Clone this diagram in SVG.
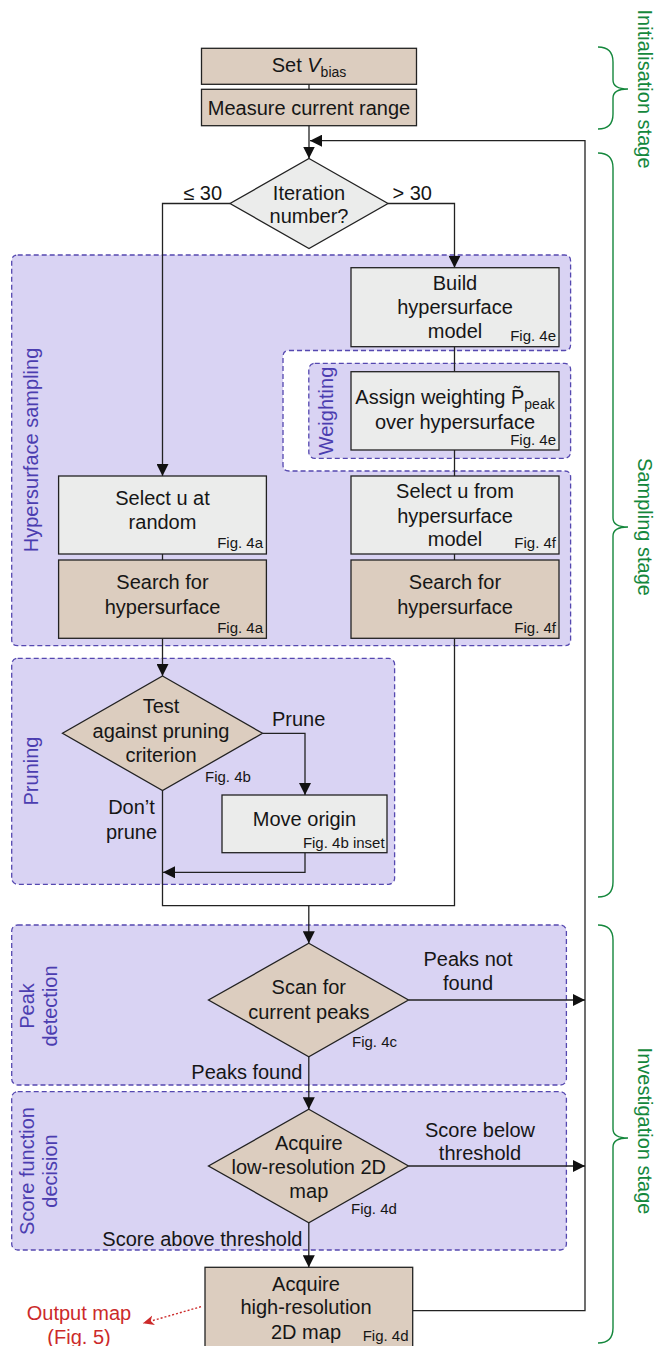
<svg xmlns="http://www.w3.org/2000/svg" width="657" height="1346" viewBox="0 0 657 1346">
<style>
.tan{fill:#dccdbf;stroke:#222;stroke-width:1.3}
.grey{fill:#ebeceb;stroke:#222;stroke-width:1.3}
.region{fill:#d9d3f3;stroke:#5548b0;stroke-width:1.3;stroke-dasharray:5 3}
.t{font-family:"Liberation Sans",Arial,sans-serif;font-size:20px;fill:#161616}
.c{text-anchor:middle}
.e{text-anchor:end}
.fig{font-size:15px}
.lab{fill:#4b3db0}
.stage{fill:#14873c}
.red{fill:#cc2a2a}
.conn{fill:none;stroke:#222;stroke-width:1.3}
.brace{fill:none;stroke:#14873c;stroke-width:1.4}
</style>
<defs>
<marker id="ah" markerUnits="userSpaceOnUse" markerWidth="12" markerHeight="12" refX="12" refY="6" orient="auto">
<path d="M0,0 L12,6 L0,12 z" fill="#111"/>
</marker>
<marker id="ahr" markerUnits="userSpaceOnUse" markerWidth="12" markerHeight="12" refX="11" refY="6" orient="auto">
<path d="M0,1 L11,6 L0,11 L3,6 z" fill="#cc2a2a"/>
</marker>
</defs>

<!-- regions -->
<g id="region-hypersurface">
<path class="region" d="M17.7,255 H564.6 Q570.6,255 570.6,261 V344.5 Q570.6,350.5 564.6,350.5 H289 Q283,350.5 283,356.5 V465 Q283,471 289,471 H564.6 Q570.6,471 570.6,477 V639.7 Q570.6,645.7 564.6,645.7 H17.7 Q11.7,645.7 11.7,639.7 V261 Q11.7,255 17.7,255 Z"/>
<text class="t lab c" transform="translate(38,450) rotate(-90)">Hypersurface sampling</text>
</g>
<g id="region-weighting">
<rect class="region" x="308.8" y="363.3" width="261.8" height="95" rx="6"/>
<text class="t lab c" transform="translate(333,411) rotate(-90)">Weighting</text>
</g>
<g id="region-pruning">
<rect class="region" x="11.7" y="658.3" width="382.9" height="226" rx="6"/>
<text class="t lab c" transform="translate(38,771) rotate(-90)">Pruning</text>
</g>
<g id="region-peak">
<rect class="region" x="11.7" y="925" width="554.7" height="160" rx="6"/>
<text class="t lab c" transform="translate(33.5,1006) rotate(-90)">Peak</text>
<text class="t lab c" transform="translate(56.5,1006) rotate(-90)">detection</text>
</g>
<g id="region-score">
<rect class="region" x="11.7" y="1091.7" width="554.7" height="158.3" rx="6"/>
<text class="t lab c" transform="translate(33.5,1171) rotate(-90)">Score function</text>
<text class="t lab c" transform="translate(56.5,1171) rotate(-90)">decision</text>
</g>

<!-- connectors -->
<g id="connectors">
<line class="conn" x1="309" y1="84.3" x2="309" y2="89.3"/>
<line class="conn" x1="309" y1="125.7" x2="309" y2="158.5" marker-end="url(#ah)"/>
<polyline class="conn" points="412.7,1310.7 585,1310.7 585,140.7 310,140.7" marker-end="url(#ah)"/>
<polyline class="conn" points="230,203.5 162.5,203.5 162.5,476" marker-end="url(#ah)"/>
<polyline class="conn" points="388,203.5 454.5,203.5 454.5,267.7" marker-end="url(#ah)"/>
<line class="conn" x1="454.5" y1="346.7" x2="454.5" y2="371.7"/>
<line class="conn" x1="454.5" y1="450" x2="454.5" y2="476"/>
<line class="conn" x1="454.5" y1="554" x2="454.5" y2="560"/>
<line class="conn" x1="162.5" y1="554" x2="162.5" y2="560"/>
<line class="conn" x1="162.5" y1="638.3" x2="162.5" y2="676" marker-end="url(#ah)"/>
<polyline class="conn" points="262.5,733.3 305,733.3 305,795" marker-end="url(#ah)"/>
<polyline class="conn" points="305,852.7 305,872.3 163,872.3" marker-end="url(#ah)"/>
<polyline class="conn" points="162.5,790.6 162.5,905.7 454.5,905.7 454.5,638.3"/>
<line class="conn" x1="308.8" y1="905.7" x2="308.8" y2="943.3" marker-end="url(#ah)"/>
<line class="conn" x1="408.5" y1="1000" x2="585" y2="1000" marker-end="url(#ah)"/>
<line class="conn" x1="308.8" y1="1056.7" x2="308.8" y2="1109.3" marker-end="url(#ah)"/>
<line class="conn" x1="408.5" y1="1166" x2="585" y2="1166" marker-end="url(#ah)"/>
<line class="conn" x1="308.8" y1="1222.7" x2="308.8" y2="1267.3" marker-end="url(#ah)"/>
<line x1="201" y1="1306.7" x2="143" y2="1323.3" stroke="#cc2a2a" stroke-width="1.4" stroke-dasharray="2 2" marker-end="url(#ahr)"/>
<text class="t" x="222" y="200" text-anchor="end">≤ 30</text>
<text class="t" x="392.5" y="200">&gt; 30</text>
<text class="t" x="272" y="726">Prune</text>
<text class="t c" x="131.5" y="813.7">Don’t</text>
<text class="t c" x="131.5" y="838.7">prune</text>
<text class="t c" x="468" y="966.3">Peaks not</text>
<text class="t c" x="468" y="989.7">found</text>
<text class="t e" x="302.5" y="1079.3">Peaks found</text>
<text class="t c" x="480" y="1137">Score below</text>
<text class="t c" x="480" y="1160.3">threshold</text>
<text class="t e" x="302.5" y="1246">Score above threshold</text>
</g>

<!-- nodes -->
<g id="set-vbias">
<rect class="tan" x="201.5" y="48.3" width="215" height="36"/>
<text class="t c" x="309" y="72">Set <tspan font-style="italic">V</tspan><tspan font-size="14" dy="5">bias</tspan></text>
</g>
<g id="measure-range">
<rect class="tan" x="201.5" y="89.3" width="215" height="36.4"/>
<text class="t c" x="309" y="114.5">Measure current range</text>
</g>
<g id="iteration">
<polygon class="grey" points="309,158.5 388,203.5 309,248.5 230,203.5"/>
<text class="t c" x="309" y="199.7">Iteration</text>
<text class="t c" x="309" y="223">number?</text>
</g>
<g id="build-model">
<rect class="grey" x="351" y="267.7" width="208" height="79"/>
<text class="t c" x="455" y="290.3">Build</text>
<text class="t c" x="455" y="314.3">hypersurface</text>
<text class="t c" x="455" y="338">model</text>
<text class="t fig e" x="556" y="341">Fig. 4e</text>
</g>
<g id="assign-weighting">
<rect class="grey" x="351" y="371.7" width="208" height="78.3"/>
<text class="t c" x="455" y="403.7">Assign weighting P̃<tspan font-size="14" dy="5">peak</tspan></text>
<text class="t c" x="455" y="428.7">over hypersurface</text>
<text class="t fig e" x="556" y="445">Fig. 4e</text>
</g>
<g id="select-u-model">
<rect class="grey" x="351" y="476" width="208" height="78"/>
<text class="t c" x="455" y="497.7">Select u from</text>
<text class="t c" x="455" y="522.7">hypersurface</text>
<text class="t c" x="455" y="546">model</text>
<text class="t fig e" x="556" y="548">Fig. 4f</text>
</g>
<g id="search-right">
<rect class="tan" x="351" y="560" width="208" height="78.3"/>
<text class="t c" x="455" y="589.3">Search for</text>
<text class="t c" x="455" y="613.7">hypersurface</text>
<text class="t fig e" x="556" y="633.3">Fig. 4f</text>
</g>
<g id="select-u-random">
<rect class="grey" x="58.6" y="476" width="207.8" height="78"/>
<text class="t c" x="162.5" y="505.3">Select u at</text>
<text class="t c" x="162.5" y="529.3">random</text>
<text class="t fig e" x="263" y="548">Fig. 4a</text>
</g>
<g id="search-left">
<rect class="tan" x="58.6" y="560" width="207.8" height="78.3"/>
<text class="t c" x="162.5" y="589.3">Search for</text>
<text class="t c" x="162.5" y="613.7">hypersurface</text>
<text class="t fig e" x="263" y="633.3">Fig. 4a</text>
</g>
<g id="test-pruning">
<polygon class="tan" points="162.5,676 262.5,733.3 162.5,790.6 62.5,733.3"/>
<text class="t c" x="161" y="713">Test</text>
<text class="t c" x="161" y="737.7">against pruning</text>
<text class="t c" x="161" y="762">criterion</text>
<text class="t fig" x="205" y="781.7">Fig. 4b</text>
</g>
<g id="move-origin">
<rect class="grey" x="222" y="795" width="165" height="57.7"/>
<text class="t c" x="304.5" y="826.3">Move origin</text>
<text class="t fig e" x="384.6" y="847.7">Fig. 4b inset</text>
</g>
<g id="scan-peaks">
<polygon class="tan" points="308.8,943.3 408.5,1000 308.8,1056.7 208.5,1000"/>
<text class="t c" x="308.8" y="994.3">Scan for</text>
<text class="t c" x="308.8" y="1018.7">current peaks</text>
<text class="t fig" x="352" y="1047.3">Fig. 4c</text>
</g>
<g id="acquire-low">
<polygon class="tan" points="308.8,1109.3 408.5,1166 308.8,1222.7 208.5,1166"/>
<text class="t c" x="308.8" y="1150.3">Acquire</text>
<text class="t c" x="308.8" y="1173.7">low-resolution 2D</text>
<text class="t c" x="308.8" y="1197.7">map</text>
<text class="t fig" x="351" y="1214.3">Fig. 4d</text>
</g>
<g id="acquire-high">
<rect class="tan" x="205" y="1267.3" width="207.7" height="86"/>
<text class="t c" x="306" y="1291">Acquire</text>
<text class="t c" x="306" y="1313.7">high-resolution</text>
<text class="t c" x="306" y="1338.7">2D map</text>
<text class="t fig e" x="408.5" y="1341">Fig. 4d</text>
</g>
<g id="output-map">
<text class="t c red" x="79" y="1320.3">Output map</text>
<text class="t c red" x="79" y="1343.7">(Fig. 5)</text>
</g>

<!-- stage braces -->
<g id="stage-init">
<path class="brace" d="M598,47 Q613,47 613,62 V80 Q613,89 628,89 Q613,89 613,98 V114 Q613,129 598,129"/>
<text class="t stage c" transform="translate(638,89) rotate(90)">Initialisation stage</text>
</g>
<g id="stage-sampling">
<path class="brace" d="M598,153 Q613,153 613,168 V518 Q613,527 628,527 Q613,527 613,536 V882 Q613,897 598,897"/>
<text class="t stage c" transform="translate(638,527) rotate(90)">Sampling stage</text>
</g>
<g id="stage-investigation">
<path class="brace" d="M598,925 Q613,925 613,940 V1129 Q613,1138 628,1138 Q613,1138 613,1147 V1328 Q613,1343 598,1343"/>
<text class="t stage c" transform="translate(638,1131) rotate(90)">Investigation stage</text>
</g>
</svg>
